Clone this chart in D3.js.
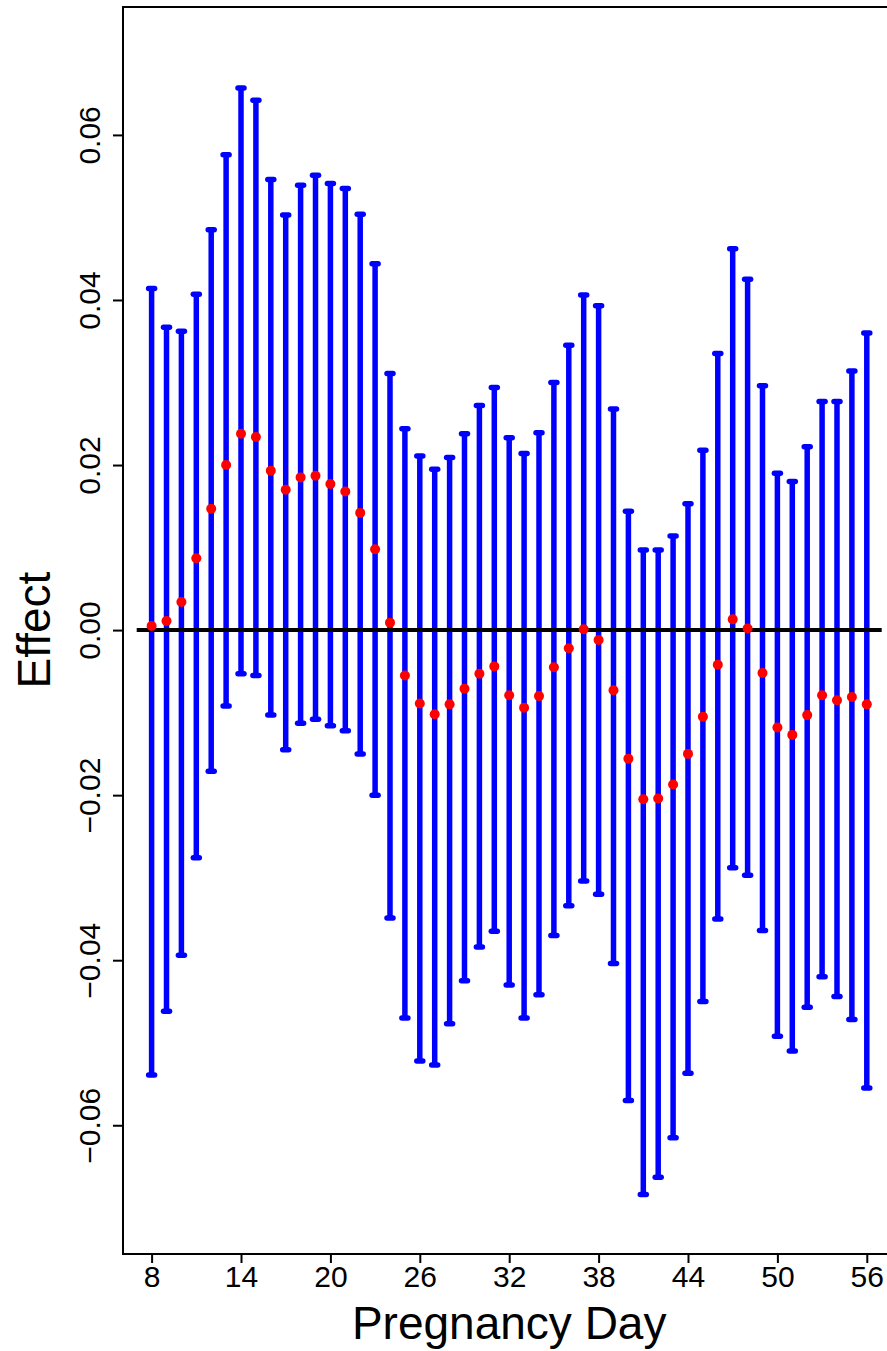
<!DOCTYPE html>
<html>
<head>
<meta charset="utf-8">
<script src="https://cdn.jsdelivr.net/npm/d3@7"></script>
<style>
  html, body { margin: 0; padding: 0; background: #fff; }
  svg { display: block; }
  text { font-family: "Liberation Sans", Arial, Helvetica, sans-serif; fill: #000; }
</style>
</head>
<body>
<svg id="chart" width="887" height="1351"></svg>
<script>
// Pregnancy day for each estimate
const days = [8, 9, 10, 11, 12, 13, 14, 15, 16, 17, 18, 19, 20, 21, 22, 23, 24,
  25, 26, 27, 28, 29, 30, 31, 32, 33, 34, 35, 36, 37, 38, 39, 40,
  41, 42, 43, 44, 45, 46, 47, 48, 49, 50, 51, 52, 53, 54, 55, 56];

// Point estimate of the effect
const estimate = [0.0005, 0.0011, 0.0034, 0.0087, 0.0147, 0.0200, 0.0238, 0.0234, 0.0193,
  0.0170, 0.0185, 0.0187, 0.0177, 0.0168, 0.0142, 0.0098, 0.0009,
  -0.0055, -0.0089, -0.0102, -0.0090, -0.0071, -0.0053, -0.0044, -0.0079,
  -0.0094, -0.0080, -0.0045, -0.0022, 0.0001, -0.0012, -0.0073, -0.0156,
  -0.0205, -0.0204, -0.0187, -0.0150, -0.0105, -0.0042, 0.0013, 0.0002,
  -0.0052, -0.0118, -0.0127, -0.0103, -0.0079, -0.0085, -0.0081, -0.0090];

// Upper confidence limit
const upper = [0.0414, 0.0367, 0.0362, 0.0407, 0.0485, 0.0576, 0.0657, 0.0642, 0.0546,
  0.0503, 0.0539, 0.0551, 0.0541, 0.0535, 0.0504, 0.0444, 0.0311,
  0.0244, 0.0211, 0.0195, 0.0209, 0.0238, 0.0272, 0.0294, 0.0233,
  0.0214, 0.0239, 0.0300, 0.0345, 0.0406, 0.0393, 0.0268, 0.0144,
  0.0097, 0.0097, 0.0114, 0.0153, 0.0218, 0.0335, 0.0462, 0.0425,
  0.0296, 0.0190, 0.0180, 0.0222, 0.0277, 0.0277, 0.0314, 0.0360];

// Lower confidence limit
const lower = [-0.0539, -0.0462, -0.0394, -0.0276, -0.0171, -0.0092, -0.0053, -0.0055, -0.0103,
  -0.0145, -0.0113, -0.0108, -0.0116, -0.0122, -0.0150, -0.0200, -0.0349,
  -0.0470, -0.0522, -0.0527, -0.0477, -0.0425, -0.0384, -0.0365, -0.0430,
  -0.0470, -0.0442, -0.0370, -0.0334, -0.0304, -0.0320, -0.0404, -0.0570,
  -0.0684, -0.0663, -0.0615, -0.0537, -0.0450, -0.0350, -0.0288, -0.0297,
  -0.0364, -0.0492, -0.0510, -0.0457, -0.0420, -0.0444, -0.0472, -0.0555];

// Axis ticks
const xTicks = [8, 14, 20, 26, 32, 38, 44, 50, 56];
const yTicks = [-0.06, -0.04, -0.02, 0.00, 0.02, 0.04, 0.06];

const rows = days.map((d, i) => ({ day: d, est: estimate[i], lo: lower[i], hi: upper[i] }));

const svg = d3.select("#chart");
const plot = { left: 123, top: 7, right: 895.4, bottom: 1254 };

const x = d3.scaleLinear().domain([6.08, 57.92]).range([plot.left, plot.right]);
const y = d3.scaleLinear().domain([-0.0756, 0.0755]).range([plot.bottom, plot.top]);

const BLUE = "#0000ff", RED = "#ff0000";

// Confidence interval bars
const bars = svg.append("g").attr("class", "intervals");
bars.selectAll("line.stem").data(rows).join("line")
  .attr("class", "stem")
  .attr("x1", d => x(d.day)).attr("x2", d => x(d.day))
  .attr("y1", d => y(d.hi)).attr("y2", d => y(d.lo))
  .attr("stroke", BLUE).attr("stroke-width", 5.5);

const caps = rows.flatMap(d => [{ day: d.day, v: d.hi }, { day: d.day, v: d.lo }]);
bars.selectAll("line.cap").data(caps).join("line")
  .attr("class", "cap")
  .attr("x1", d => x(d.day) - 3).attr("x2", d => x(d.day) + 3)
  .attr("y1", d => y(d.v)).attr("y2", d => y(d.v))
  .attr("stroke", BLUE).attr("stroke-width", 5.5).attr("stroke-linecap", "round");

// Reference line at zero
svg.append("line")
  .attr("x1", x(7)).attr("x2", x(57))
  .attr("y1", y(0)).attr("y2", y(0))
  .attr("stroke", "#000").attr("stroke-width", 4);

// Point estimates
svg.append("g").selectAll("circle").data(rows).join("circle")
  .attr("cx", d => x(d.day)).attr("cy", d => y(d.est))
  .attr("r", 5).attr("fill", RED);

// Plot frame
svg.append("rect")
  .attr("x", plot.left).attr("y", plot.top)
  .attr("width", plot.right - plot.left).attr("height", plot.bottom - plot.top)
  .attr("fill", "none").attr("stroke", "#000").attr("stroke-width", 2);

// Y axis
const fmtY = v => (v < 0 ? "\u2212" : "") + Math.abs(v).toFixed(2);
const yAxis = svg.append("g")
  .attr("transform", `translate(${plot.left},0)`)
  .call(d3.axisLeft(y).tickValues(yTicks).tickFormat(fmtY).tickSize(10).tickSizeOuter(0));
yAxis.select(".domain").remove();
yAxis.selectAll(".tick line").attr("stroke", "#000").attr("stroke-width", 2);
yAxis.selectAll(".tick text")
  .attr("x", 0).attr("dy", 0)
  .attr("text-anchor", "middle")
  .attr("transform", "translate(-23,0) rotate(-90)")
  .style("font-size", "30px")
  .style("font-family", "'Liberation Sans', Arial, sans-serif");

// X axis
const xAxis = svg.append("g")
  .attr("transform", `translate(0,${plot.bottom})`)
  .call(d3.axisBottom(x).tickValues(xTicks).tickFormat(d3.format("d")).tickSize(9).tickSizeOuter(0));
xAxis.select(".domain").remove();
xAxis.selectAll(".tick line").attr("stroke", "#000").attr("stroke-width", 2);
xAxis.selectAll(".tick text")
  .attr("y", 33).attr("dy", 0)
  .style("font-size", "30px")
  .style("font-family", "'Liberation Sans', Arial, sans-serif");

// Axis titles
svg.append("text")
  .attr("transform", `translate(50,${y(0)}) rotate(-90)`)
  .attr("text-anchor", "middle")
  .style("font-size", "46px")
  .text("Effect");

svg.append("text")
  .attr("x", (plot.left + plot.right) / 2).attr("y", 1339)
  .attr("text-anchor", "middle")
  .style("font-size", "46px")
  .text("Pregnancy Day");
</script>
</body>
</html>
